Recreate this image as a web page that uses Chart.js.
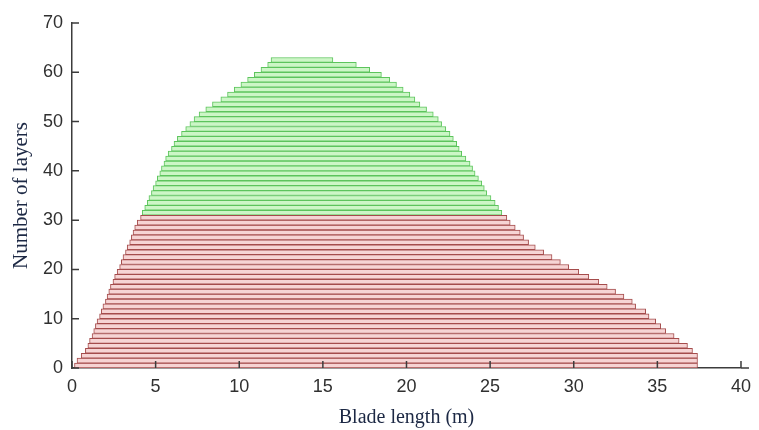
<!DOCTYPE html>
<html>
<head>
<meta charset="utf-8">
<script src="https://cdn.jsdelivr.net/npm/chart.js@4/dist/chart.umd.min.js"></script>
<style>
  html, body { margin: 0; padding: 0; background: #ffffff; }
  #wrap { width: 759px; height: 430px; }
</style>
</head>
<body>
<div id="wrap"><canvas id="c" width="759" height="430"></canvas></div>
<script>
// ---- data ----
const redLayers   = [1,2,3,4,5,6,7,8,9,10,11,12,13,14,15,16,17,18,19,20,21,22,23,24,25,26,27,28,29,30,31];
const redStart    = [0.15,0.3,0.55,0.8,0.95,1.05,1.2,1.3,1.4,1.5,1.65,1.75,1.85,2.0,2.1,2.2,2.3,2.45,2.55,2.7,2.85,2.95,3.05,3.2,3.3,3.45,3.55,3.65,3.75,3.9,4.1];
const redEnd      = [37.4,37.4,37.4,37.1,36.8,36.3,36.0,35.5,35.2,34.9,34.5,34.3,33.7,33.5,33.0,32.5,32.0,31.5,30.9,30.3,29.7,29.2,28.7,28.2,27.7,27.3,27.0,26.8,26.5,26.2,26.0];

const greenLayers = [32,33,34,35,36,37,38,39,40,41,42,43,44,45,46,47,48,49,50,51,52,53,54,55,56,57,58,59,60,61,62,63];
const greenStart  = [4.2,4.35,4.5,4.6,4.75,4.85,5.0,5.1,5.25,5.35,5.5,5.6,5.75,5.95,6.1,6.3,6.55,6.8,7.05,7.3,7.6,8.0,8.4,8.9,9.3,9.7,10.1,10.5,10.9,11.3,11.7,11.9];
const greenEnd    = [25.7,25.5,25.3,25.05,24.8,24.65,24.5,24.3,24.1,23.95,23.8,23.55,23.3,23.15,23.0,22.8,22.6,22.35,22.1,21.9,21.6,21.2,20.8,20.5,20.2,19.8,19.4,19.0,18.5,17.8,17.0,15.6];

const xTicks = [0,5,10,15,20,25,30,35,40];
const yTicks = [0,10,20,30,40,50,60,70];
const xTitle = 'Blade length (m)';
const yTitle = 'Number of layers';

// ---- styles ----
const AXIS_COLOR = '#3c3c3c';
const TICK_LEN = 7;

function buildBars(layers, starts, ends) {
  return layers.map((l, i) => ({ x: [starts[i], ends[i]], y: l - 0.5 }));
}

const inwardTicks = {
  id: 'inwardTicks',
  afterDatasetsDraw(chart) {
    const { ctx, chartArea } = chart;
    const xs = chart.scales.x, ys = chart.scales.y;
    ctx.save();
    ctx.strokeStyle = AXIS_COLOR;
    ctx.lineWidth = 1.5;
    ctx.beginPath();
    xs.ticks.forEach((t, i) => {
      const px = xs.getPixelForTick(i);
      ctx.moveTo(px, chartArea.bottom);
      ctx.lineTo(px, chartArea.bottom - TICK_LEN);
    });
    ys.ticks.forEach((t, i) => {
      const py = ys.getPixelForTick(i);
      ctx.moveTo(chartArea.left, py);
      ctx.lineTo(chartArea.left + TICK_LEN, py);
    });
    // small extension of the x axis line past the last tick
    ctx.moveTo(chartArea.right, chartArea.bottom);
    ctx.lineTo(chartArea.right + 8, chartArea.bottom);
    ctx.stroke();
    ctx.restore();
  }
};

new Chart(document.getElementById('c'), {
  type: 'bar',
  data: {
    datasets: [
      {
        label: 'lower layers',
        data: buildBars(redLayers, redStart, redEnd),
        backgroundColor: 'rgb(246,212,212)',
        borderColor: 'rgb(165,76,76)',
        borderWidth: 1,
        borderSkipped: false,
        grouped: false,
        barPercentage: 1,
        categoryPercentage: 1
      },
      {
        label: 'upper layers',
        data: buildBars(greenLayers, greenStart, greenEnd),
        backgroundColor: 'rgb(204,246,198)',
        borderColor: 'rgb(92,196,92)',
        borderWidth: 1,
        borderSkipped: false,
        grouped: false,
        barPercentage: 1,
        categoryPercentage: 1
      }
    ]
  },
  options: {
    indexAxis: 'y',
    responsive: false,
    animation: false,
    devicePixelRatio: 1,
    layout: { padding: { top: 23, right: 17, left: 0, bottom: 0 } },
    plugins: {
      legend: { display: false },
      tooltip: { enabled: false }
    },
    scales: {
      x: {
        type: 'linear',
        min: 0,
        max: 40,
        offset: false,
        afterBuildTicks: (s) => { s.ticks = xTicks.map(v => ({ value: v })); },
        afterFit: (s) => { s.height = 62; },
        grid: { drawOnChartArea: false, drawTicks: false, offset: false, color: 'rgba(0,0,0,0)' },
        border: { display: true, color: AXIS_COLOR, width: 1.5 },
        ticks: {
          padding: 8,
          color: '#303030',
          font: { family: 'Liberation Sans, Arial, sans-serif', size: 18 },
          maxRotation: 0
        },
        title: {
          display: true,
          text: xTitle,
          color: '#1c2844',
          font: { family: 'Liberation Serif, Times New Roman, serif', size: 20 },
          padding: { top: 8, bottom: 0 }
        }
      },
      y: {
        type: 'linear',
        min: 0,
        max: 70,
        offset: false,
        afterBuildTicks: (s) => { s.ticks = yTicks.map(v => ({ value: v })); },
        afterFit: (s) => { s.width = 72; },
        grid: { drawOnChartArea: false, drawTicks: false, offset: false, color: 'rgba(0,0,0,0)' },
        border: { display: true, color: AXIS_COLOR, width: 1.5 },
        ticks: {
          padding: 9,
          color: '#303030',
          font: { family: 'Liberation Sans, Arial, sans-serif', size: 18 }
        },
        title: {
          display: true,
          text: yTitle,
          color: '#1c2844',
          font: { family: 'Liberation Serif, Times New Roman, serif', size: 21 },
          padding: { top: 9, bottom: 0 }
        }
      }
    }
  },
  plugins: [inwardTicks]
});
</script>
</body>
</html>
